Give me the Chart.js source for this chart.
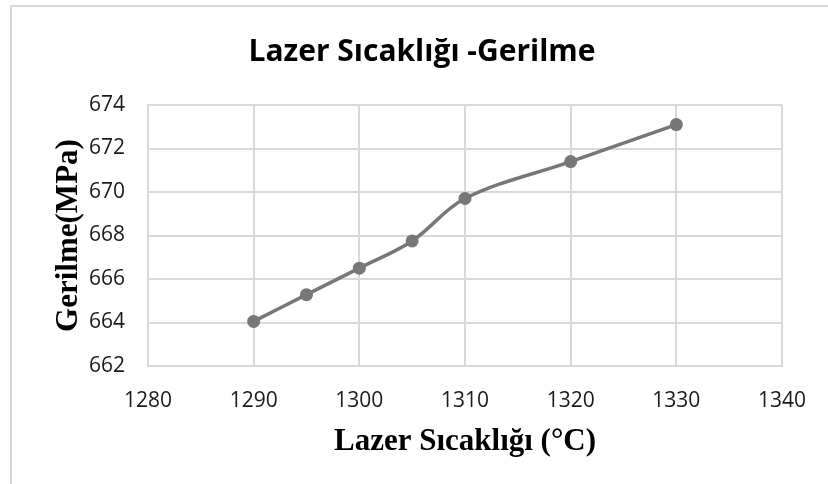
<!DOCTYPE html>
<html>
<head>
<meta charset="utf-8">
<script src="https://cdn.jsdelivr.net/npm/chart.js@4.4.1/dist/chart.umd.min.js"></script>
<style>
  html, body { margin: 0; padding: 0; background: #fff; }
  #wrap { width: 828px; height: 484px; position: relative; }
</style>
</head>
<body>
<div id="wrap"><canvas id="stressChart" width="828" height="484"></canvas></div>
<script>
// Lazer sıcaklığı (°C) vs gerilme (MPa)
const laserTemps = [1290, 1295, 1300, 1305, 1310, 1320, 1330];
const stressValues = [664.05, 665.28, 666.5, 667.75, 669.7, 671.4, 673.1];
const xTickRange = [1280, 1340, 10];
const yTickRange = [662, 674, 2];
const chartTitle = 'Lazer Sıcaklığı -Gerilme';

const LINE_GRAY = '#777777';
const GRID_GRAY = '#d9d9d9';

// light outer frame (left and top edge of the chart box) + title
const framePlugin = {
    id: 'frame',
    beforeDraw(chart) {
        const ctx = chart.ctx;
        ctx.save();
        ctx.strokeStyle = GRID_GRAY;
        ctx.lineWidth = 2;
        ctx.beginPath();
        ctx.moveTo(11, 484);
        ctx.lineTo(11, 6);
        ctx.lineTo(828, 6);
        ctx.stroke();

        ctx.fillStyle = '#000';
        ctx.font = 'bold 30px "Open Sans"';
        ctx.textAlign = 'center';
        ctx.textBaseline = 'middle';
        ctx.fillText(chartTitle, 422, 52);
        ctx.restore();
    }
};

const points = laserTemps.map((t, i) => ({ x: t, y: stressValues[i] }));

new Chart(document.getElementById('stressChart').getContext('2d'), {
    type: 'scatter',
    data: {
        datasets: [{
            data: points,
            showLine: true,
            tension: 0.35,
            borderColor: LINE_GRAY,
            backgroundColor: LINE_GRAY,
            borderWidth: 3.5,
            pointRadius: 6.5,
            pointHoverRadius: 6.5,
            pointBorderWidth: 0
        }]
    },
    options: {
        responsive: false,
        devicePixelRatio: 1,
        animation: false,
        layout: { padding: { top: 105, left: 0, right: 43, bottom: 0 } },
        plugins: {
            legend: { display: false },
            tooltip: { enabled: false },
            title: { display: false }
        },
        scales: {
            x: {
                type: 'linear',
                min: xTickRange[0],
                max: xTickRange[1],
                afterFit: s => { s.height = 118; },
                ticks: {
                    stepSize: xTickRange[2],
                    padding: 22,
                    color: '#1a1a1a',
                    font: { family: 'Open Sans', size: 21 },
                    callback: v => String(v)
                },
                grid: { color: GRID_GRAY, lineWidth: 2, drawTicks: false },
                border: { color: GRID_GRAY, width: 2 },
                title: {
                    display: true,
                    text: 'Lazer Sıcaklığı (°C)',
                    color: '#000',
                    font: { family: 'Liberation Serif', size: 31, weight: 'bold', lineHeight: 1.2 },
                    padding: { top: 0, bottom: 23 }
                }
            },
            y: {
                type: 'linear',
                min: yTickRange[0],
                max: yTickRange[1],
                afterFit: s => { s.width = 148; },
                ticks: {
                    stepSize: yTickRange[2],
                    padding: 23,
                    color: '#1a1a1a',
                    font: { family: 'Open Sans', size: 21 },
                    callback: v => String(v)
                },
                grid: { color: GRID_GRAY, lineWidth: 2, drawTicks: false },
                border: { color: GRID_GRAY, width: 2 },
                title: {
                    display: true,
                    text: 'Gerilme(MPa)',
                    color: '#000',
                    font: { family: 'Liberation Serif', size: 31, weight: 'bold', lineHeight: 1.2 },
                    padding: { top: 50, bottom: 0 }
                }
            }
        }
    },
    plugins: [framePlugin]
});
</script>
</body>
</html>
